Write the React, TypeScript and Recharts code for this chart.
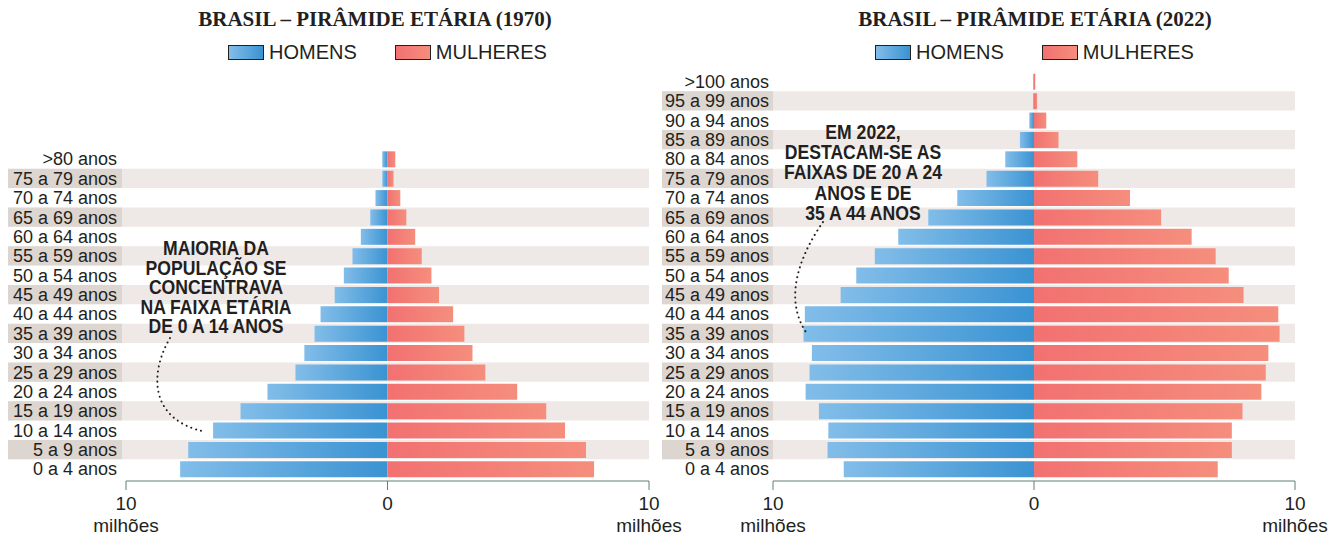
import React from 'react';
import { BarChart, Bar, XAxis, YAxis, ReferenceArea } from 'recharts';

// faixas etárias de cima para baixo, valores em milhões
const faixas1970 = [
  '>80 anos', '75 a 79 anos', '70 a 74 anos', '65 a 69 anos', '60 a 64 anos',
  '55 a 59 anos', '50 a 54 anos', '45 a 49 anos', '40 a 44 anos', '35 a 39 anos',
  '30 a 34 anos', '25 a 29 anos', '20 a 24 anos', '15 a 19 anos', '10 a 14 anos',
  '5 a 9 anos', '0 a 4 anos',
];
const homens1970 = [0.2, 0.2, 0.46, 0.66, 1.02, 1.34, 1.67, 2.02, 2.56, 2.79, 3.18, 3.52, 4.59, 5.62, 6.67, 7.62, 7.93];
const mulheres1970 = [0.3, 0.23, 0.49, 0.72, 1.06, 1.31, 1.68, 1.97, 2.51, 2.94, 3.25, 3.74, 4.96, 6.07, 6.79, 7.59, 7.9];

const faixas2022 = [
  '>100 anos', '95 a 99 anos', '90 a 94 anos', '85 a 89 anos', '80 a 84 anos',
  '75 a 79 anos', '70 a 74 anos', '65 a 69 anos', '60 a 64 anos', '55 a 59 anos',
  '50 a 54 anos', '45 a 49 anos', '40 a 44 anos', '35 a 39 anos', '30 a 34 anos',
  '25 a 29 anos', '20 a 24 anos', '15 a 19 anos', '10 a 14 anos', '5 a 9 anos',
  '0 a 4 anos',
];
const homens2022 = [0.03, 0.03, 0.18, 0.54, 1.1, 1.82, 2.94, 4.05, 5.2, 6.1, 6.81, 7.41, 8.78, 8.83, 8.51, 8.6, 8.75, 8.24, 7.88, 7.91, 7.29];
const mulheres2022 = [0.05, 0.12, 0.47, 0.94, 1.66, 2.46, 3.68, 4.87, 6.04, 6.96, 7.46, 8.03, 9.36, 9.41, 8.98, 8.88, 8.71, 7.99, 7.58, 7.58, 7.04];

const eixoTicks = [-10, 0, 10];

const nota1970 = ['MAIORIA DA', 'POPULAÇÃO SE', 'CONCENTRAVA', 'NA FAIXA ETÁRIA', 'DE 0 A 14 ANOS'];
const nota2022 = ['EM 2022,', 'DESTACAM-SE AS', 'FAIXAS DE 20 A 24', 'ANOS E DE', '35 A 44 ANOS'];

const ROW_H = 19.375;
const BANDS_BOTTOM = 478.7;
const AXIS_GAP = 2.3; // espaço entre a última faixa e a linha do eixo
const XAXIS_H = 50;
const CHART_H = 538;

const SANS = "'Liberation Sans', Arial, Helvetica, sans-serif";
const SERIF = "'Liberation Serif', 'Times New Roman', serif";
const INK = '#231f20';
const STRIPE = '#eee9e6';
const STRIPE_LABEL = '#ddd5cf';

const AgeTick = (props: any) => {
  const { x, y, payload, index, bgLeft, bgRight, plotLeft } = props;
  const i = payload?.index ?? index;
  const striped = i % 2 === 1;
  return (
    <g>
      {striped && (
        <>
          <rect x={bgLeft} y={y - ROW_H / 2} width={bgRight - bgLeft} height={ROW_H} fill={STRIPE_LABEL} />
          {plotLeft > bgRight && (
            <rect x={bgRight} y={y - ROW_H / 2} width={plotLeft - bgRight} height={ROW_H} fill={STRIPE} />
          )}
        </>
      )}
      <text x={x} y={y} dy="0.36em" textAnchor="end" fontSize={18} fontFamily={SANS} fill={INK}>
        {payload.value}
      </text>
    </g>
  );
};

const MilhoesTick = (props: any) => {
  const { x, y, payload } = props;
  const v = Math.abs(payload.value);
  return (
    <g>
      <text x={x} y={y + 18} textAnchor="middle" fontSize={19} fontFamily={SANS} fill={INK}>
        {v}
      </text>
      {v !== 0 && (
        <text x={x} y={y + 40} textAnchor="middle" fontSize={19} fontFamily={SANS} fill={INK}>
          milhões
        </text>
      )}
    </g>
  );
};

interface PyramidProps {
  id: string;
  faixas: string[];
  homens: number[];
  mulheres: number[];
  width: number;
  yAxisWidth: number;
  marginRight: number;
  bgLeft: number;
  bgRight: number;
  labelGap: number;
}

const Pyramid: React.FC<PyramidProps> = ({ id, faixas, homens, mulheres, width, yAxisWidth, marginRight, bgLeft, bgRight, labelGap }) => {
  const data = faixas.map((faixa, i) => ({ faixa, homens: -homens[i], mulheres: mulheres[i] }));
  const top = BANDS_BOTTOM - faixas.length * ROW_H;
  const bottom = CHART_H - BANDS_BOTTOM - AXIS_GAP - XAXIS_H;
  return (
    <BarChart
      width={width}
      height={CHART_H}
      data={data}
      layout="vertical"
      stackOffset="sign"
      margin={{ top, right: marginRight, bottom, left: 0 }}
    >
      <defs>
        <linearGradient id={`${id}-h`} x1="0" y1="0" x2="1" y2="0">
          <stop offset="0" stopColor="#82bde9" />
          <stop offset="1" stopColor="#3a93d2" />
        </linearGradient>
        <linearGradient id={`${id}-m`} x1="0" y1="0" x2="1" y2="0">
          <stop offset="0" stopColor="#f27171" />
          <stop offset="1" stopColor="#f58e7d" />
        </linearGradient>
      </defs>
      {faixas.map((f, i) =>
        i % 2 === 1 ? (
          <ReferenceArea key={f} y1={f} y2={f} fill={STRIPE} fillOpacity={1} stroke="none" ifOverflow="visible" />
        ) : null
      )}
      <XAxis
        type="number"
        domain={[-10, 10]}
        ticks={eixoTicks}
        height={XAXIS_H}
        stroke="#5f7f7d"
        tickSize={9}
        tickMargin={2}
        interval={0}
        tick={<MilhoesTick />}
      />
      <YAxis
        type="category"
        dataKey="faixa"
        width={yAxisWidth}
        axisLine={false}
        tickLine={false}
        tickSize={labelGap}
        tickMargin={0}
        interval={0}
        padding={{ top: 0, bottom: AXIS_GAP }}
        tick={<AgeTick bgLeft={bgLeft} bgRight={bgRight} plotLeft={yAxisWidth} />}
      />
      <Bar dataKey="homens" stackId="p" barSize={16} fill={`url(#${id}-h)`} isAnimationActive={false} />
      <Bar dataKey="mulheres" stackId="p" barSize={16} fill={`url(#${id}-m)`} isAnimationActive={false} />
    </BarChart>
  );
};

const LegendBox = ({ from, to }: { from: string; to: string }) => (
  <span
    style={{
      display: 'inline-block',
      width: 34,
      height: 13,
      border: `1.5px solid ${INK}`,
      background: `linear-gradient(to right, ${from}, ${to})`,
      marginRight: 5,
    }}
  />
);

const Header = ({ title, center, legendLeft }: { title: string; center: number; legendLeft: number }) => (
  <>
    <div
      style={{
        position: 'absolute',
        left: center - 250,
        width: 500,
        top: 6,
        textAlign: 'center',
        fontFamily: SERIF,
        fontWeight: 'bold',
        fontSize: 21,
        lineHeight: '26px',
        color: INK,
      }}
    >
      {title}
    </div>
    <div
      style={{
        position: 'absolute',
        left: legendLeft,
        top: 40,
        display: 'flex',
        alignItems: 'center',
        fontFamily: SANS,
        fontSize: 20,
        lineHeight: '24px',
        color: INK,
        whiteSpace: 'nowrap',
      }}
    >
      <LegendBox from="#82bde9" to="#3a93d2" />
      <span style={{ marginRight: 38 }}>HOMENS</span>
      <LegendBox from="#f27171" to="#f58e7d" />
      <span>MULHERES</span>
    </div>
  </>
);

// texto em negrito estreito (tipo Arial Narrow): Liberation Sans comprimida na horizontal
const Nota = ({ lines, cx, y0, step }: { lines: string[]; cx: number; y0: number; step: number }) => (
  <>
    {lines.map((t, i) => (
      <text
        key={t}
        transform={`translate(${cx},${y0 + i * step}) scale(0.88,1)`}
        textAnchor="middle"
        fontFamily={SANS}
        fontWeight="bold"
        fontSize={20}
        fill={INK}
      >
        {t}
      </text>
    ))}
  </>
);

export default function App() {
  return (
    <div style={{ position: 'absolute', left: 0, top: 0, width: 1341, height: 538, background: '#fff' }}>
      <div style={{ position: 'absolute', left: 0, top: 0 }}>
        <Pyramid
          id="p1970"
          faixas={faixas1970}
          homens={homens1970}
          mulheres={mulheres1970}
          width={700}
          yAxisWidth={126}
          marginRight={51}
          bgLeft={8}
          bgRight={122}
          labelGap={9}
        />
      </div>
      <div style={{ position: 'absolute', left: 650, top: 0 }}>
        <Pyramid
          id="p2022"
          faixas={faixas2022}
          homens={homens2022}
          mulheres={mulheres2022}
          width={691}
          yAxisWidth={123}
          marginRight={46}
          bgLeft={12}
          bgRight={123}
          labelGap={4}
        />
      </div>
      <Header title="BRASIL – PIRÂMIDE ETÁRIA (1970)" center={375} legendLeft={228} />
      <Header title="BRASIL – PIRÂMIDE ETÁRIA (2022)" center={1035} legendLeft={875} />
      <svg width={1341} height={538} style={{ position: 'absolute', left: 0, top: 0, pointerEvents: 'none' }}>
        <Nota lines={nota1970} cx={216} y0={255} step={19.5} />
        <Nota lines={nota2022} cx={863} y0={139} step={20.2} />
        <path
          d="M170,338 C150,372 148,420 206,432"
          fill="none"
          stroke={INK}
          strokeWidth={2}
          strokeDasharray="0.1 5"
          strokeLinecap="round"
        />
        <path
          d="M823,222 C800,255 782,300 808,335"
          fill="none"
          stroke={INK}
          strokeWidth={2}
          strokeDasharray="0.1 5"
          strokeLinecap="round"
        />
      </svg>
    </div>
  );
}
